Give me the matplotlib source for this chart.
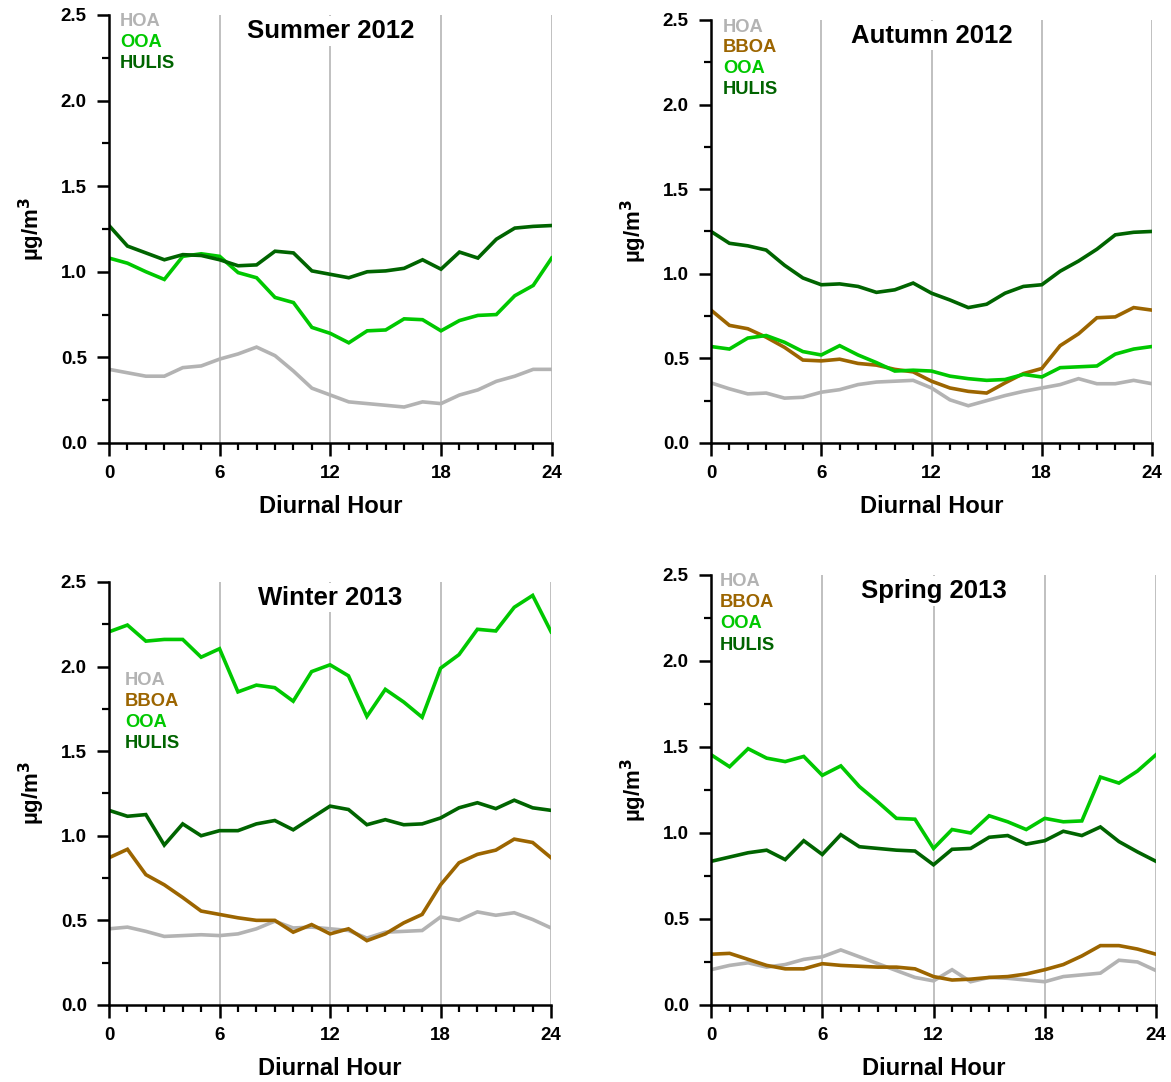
import matplotlib.pyplot as plt
from matplotlib.ticker import MultipleLocator
import numpy as np

plt.rcParams['font.family'] = ['Liberation Sans', 'DejaVu Sans']
plt.rcParams['font.weight'] = 'bold'
plt.rcParams['mathtext.default'] = 'bf'

hours = np.arange(25)

# Summer 2012
summer_hoa = [0.43, 0.41, 0.39, 0.39, 0.44, 0.45, 0.49, 0.52, 0.56, 0.51, 0.42, 0.32, 0.28,
              0.24, 0.23, 0.22, 0.21, 0.24, 0.23, 0.28, 0.31, 0.36, 0.39, 0.43, 0.43]
summer_ooa = [1.08, 1.05, 1.00, 0.955, 1.09, 1.105, 1.09, 0.995, 0.965, 0.85, 0.82, 0.675, 0.64,
              0.585, 0.655, 0.66, 0.725, 0.72, 0.655, 0.715, 0.745, 0.75, 0.86, 0.92, 1.08]
summer_hulis = [1.27, 1.15, 1.11, 1.07, 1.10, 1.095, 1.07, 1.035, 1.04, 1.12, 1.11, 1.005, 0.985,
                0.965, 1.00, 1.005, 1.02, 1.07, 1.015, 1.115, 1.08, 1.19, 1.255, 1.265, 1.27]

# Autumn 2012
autumn_hoa = [0.355, 0.32, 0.29, 0.295, 0.265, 0.27, 0.30, 0.315, 0.345, 0.36, 0.365, 0.37, 0.325,
              0.255, 0.22, 0.25, 0.28, 0.305, 0.325, 0.345, 0.38, 0.35, 0.35, 0.37, 0.35]
autumn_bboa = [0.785, 0.695, 0.675, 0.625, 0.565, 0.49, 0.485, 0.495, 0.47, 0.46, 0.435, 0.42, 0.365,
               0.325, 0.305, 0.295, 0.355, 0.41, 0.44, 0.575, 0.645, 0.74, 0.745, 0.80, 0.785]
autumn_ooa = [0.57, 0.555, 0.62, 0.635, 0.595, 0.54, 0.52, 0.575, 0.52, 0.475, 0.425, 0.43, 0.425,
              0.395, 0.38, 0.37, 0.375, 0.405, 0.39, 0.445, 0.45, 0.455, 0.525, 0.555, 0.57]
autumn_hulis = [1.25, 1.18, 1.165, 1.14, 1.05, 0.975, 0.935, 0.94, 0.925, 0.89, 0.905, 0.945, 0.885,
                0.845, 0.80, 0.82, 0.885, 0.925, 0.935, 1.015, 1.075, 1.145, 1.23, 1.245, 1.25]

# Winter 2013
winter_hoa = [0.45, 0.46, 0.435, 0.405, 0.41, 0.415, 0.41, 0.42, 0.45, 0.495, 0.455, 0.46, 0.45,
              0.44, 0.395, 0.43, 0.435, 0.44, 0.52, 0.50, 0.55, 0.53, 0.545, 0.505, 0.455]
winter_bboa = [0.87, 0.92, 0.77, 0.71, 0.635, 0.555, 0.535, 0.515, 0.50, 0.50, 0.43, 0.475, 0.42,
               0.45, 0.38, 0.42, 0.485, 0.535, 0.71, 0.84, 0.89, 0.915, 0.98, 0.96, 0.87]
winter_ooa = [2.205, 2.245, 2.15, 2.16, 2.16, 2.055, 2.105, 1.85, 1.89, 1.875, 1.795, 1.97, 2.01,
              1.945, 1.705, 1.865, 1.79, 1.70, 1.99, 2.07, 2.22, 2.21, 2.35, 2.42, 2.205]
winter_hulis = [1.15, 1.115, 1.125, 0.945, 1.07, 1.00, 1.03, 1.03, 1.07, 1.09, 1.035, 1.105, 1.175,
                1.155, 1.065, 1.095, 1.065, 1.07, 1.105, 1.165, 1.195, 1.16, 1.21, 1.165, 1.15]

# Spring 2013
spring_hoa = [0.205, 0.23, 0.245, 0.22, 0.235, 0.265, 0.28, 0.32, 0.28, 0.24, 0.20, 0.16, 0.14,
              0.205, 0.135, 0.16, 0.155, 0.145, 0.135, 0.165, 0.175, 0.185, 0.26, 0.25, 0.20]
spring_bboa = [0.295, 0.30, 0.265, 0.23, 0.21, 0.21, 0.24, 0.23, 0.225, 0.22, 0.22, 0.21, 0.165,
               0.145, 0.15, 0.16, 0.165, 0.18, 0.205, 0.235, 0.285, 0.345, 0.345, 0.325, 0.295]
spring_ooa = [1.455, 1.385, 1.49, 1.435, 1.415, 1.445, 1.335, 1.39, 1.27, 1.18, 1.085, 1.08, 0.91,
              1.02, 1.00, 1.10, 1.065, 1.02, 1.085, 1.065, 1.07, 1.325, 1.29, 1.36, 1.455]
spring_hulis = [0.835, 0.86, 0.885, 0.90, 0.845, 0.955, 0.875, 0.99, 0.92, 0.91, 0.90, 0.895, 0.815,
                0.905, 0.91, 0.975, 0.985, 0.935, 0.955, 1.01, 0.985, 1.035, 0.95, 0.89, 0.835]

colors = {'HOA': '#b3b3b3', 'BBOA': '#9c6500', 'OOA': '#00c800', 'HULIS': '#006400'}

panels = [
    ('Summer 2012', [0.0931, 0.5906, 0.378, 0.3956],
     {'HOA': summer_hoa, 'OOA': summer_ooa, 'HULIS': summer_hulis}, (0.025, 0.984)),
    ('Autumn 2012', [0.6072, 0.5906, 0.3766, 0.391],
     {'HOA': autumn_hoa, 'BBOA': autumn_bboa, 'OOA': autumn_ooa, 'HULIS': autumn_hulis}, (0.027, 0.983)),
    ('Winter 2013', [0.0931, 0.0712, 0.3775, 0.391],
     {'HOA': winter_hoa, 'BBOA': winter_bboa, 'OOA': winter_ooa, 'HULIS': winter_hulis}, (0.036, 0.766)),
    ('Spring 2013', [0.6072, 0.0712, 0.38, 0.3974],
     {'HOA': spring_hoa, 'BBOA': spring_bboa, 'OOA': spring_ooa, 'HULIS': spring_hulis}, (0.02, 0.984)),
]

fig = plt.figure(figsize=(11.71, 10.82), dpi=100)

for title, rect, series, (lx, ly) in panels:
    ax = fig.add_axes(rect)
    for name, vals in series.items():
        ax.plot(hours, vals, color=colors[name], lw=2.6, solid_joinstyle='miter')
    ax.set_xlim(0, 24)
    ax.set_ylim(0, 2.5)
    ax.xaxis.set_major_locator(MultipleLocator(6))
    ax.xaxis.set_minor_locator(MultipleLocator(1))
    ax.yaxis.set_major_locator(MultipleLocator(0.5))
    ax.yaxis.set_minor_locator(MultipleLocator(0.25))
    ax.yaxis.set_major_formatter(plt.FormatStrFormatter('%.1f'))
    ax.spines['top'].set_visible(False)
    ax.spines['right'].set_visible(False)
    for s in ('left', 'bottom'):
        ax.spines[s].set_linewidth(1.8)
    ax.tick_params(which='major', direction='out', length=9, width=1.8, labelsize=13.5, pad=7)
    ax.tick_params(which='minor', direction='out', length=5, width=1.6)
    for lab in ax.get_xticklabels() + ax.get_yticklabels():
        lab.set_fontweight('bold')
    ax.grid(axis='x', which='major', color='#bbbbbb', lw=1.3)
    ax.set_axisbelow(True)
    ax.set_xlabel('Diurnal Hour', fontsize=17, fontweight='bold', labelpad=9)
    ax.set_ylabel('µg/m$^3$', fontsize=16, fontweight='bold', labelpad=10)
    ax.text(12, 0.963, title, transform=ax.get_xaxis_transform(), ha='center', va='center',
            fontsize=18.5, fontweight='bold',
            bbox=dict(facecolor='white', edgecolor='none', pad=2))
    for i, name in enumerate(series):
        ax.text(lx, ly - i * 0.049, name, transform=ax.transAxes, ha='left', va='center',
                fontsize=13.2, fontweight='bold', color=colors[name])

fig.savefig('out.png', dpi=100)
